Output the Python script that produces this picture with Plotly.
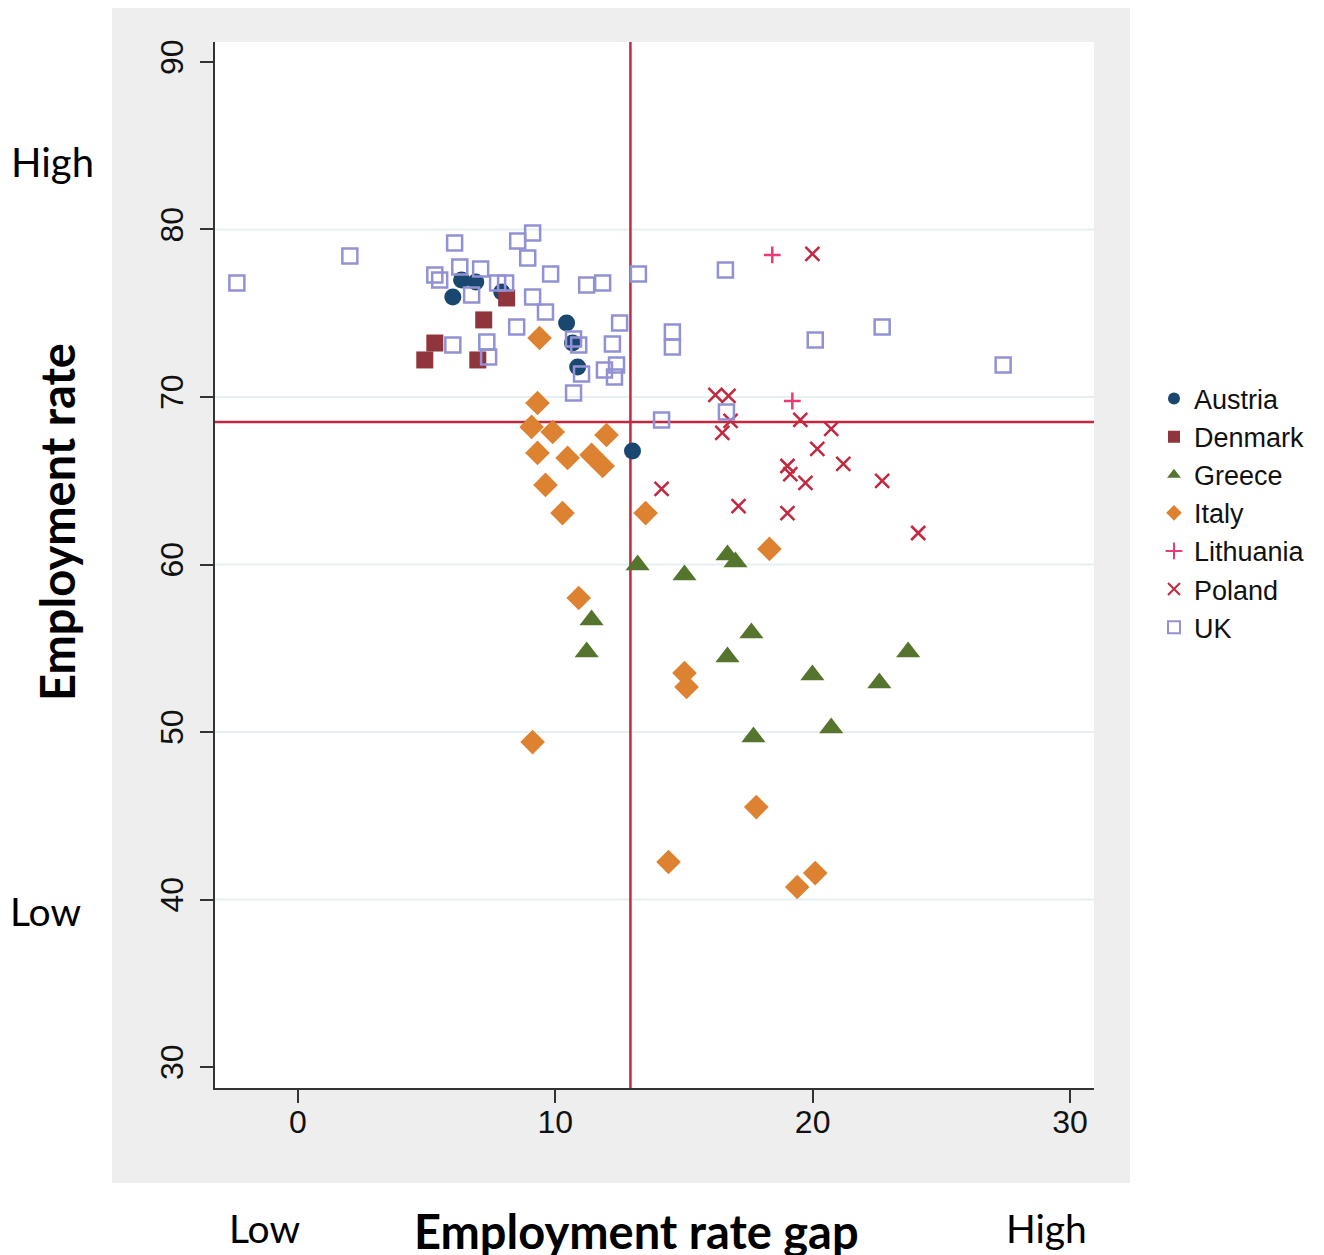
import plotly.graph_objects as go

# Employment rate gap (x) and employment rate (y), by country
austria_gap = [6.02, 6.36, 6.91, 7.92, 10.44, 10.67, 10.87, 13.00]
austria_rate = [75.97, 76.99, 76.87, 76.27, 74.42, 73.22, 71.79, 66.78]

denmark_gap = [4.93, 5.32, 7.22, 6.99, 8.11]
denmark_rate = [72.21, 73.22, 74.60, 72.21, 75.91]

greece_gap = [13.20, 15.02, 16.69, 17.00, 11.41, 11.22, 17.62, 16.69, 19.99, 22.59, 23.71, 17.70, 20.72]
greece_rate = [59.97, 59.37, 60.57, 60.15, 56.69, 54.78, 55.91, 54.48, 53.40, 52.93, 54.78, 49.70, 50.24]

italy_gap = [9.39, 9.31, 9.08, 9.90, 11.99, 9.31, 10.48, 11.41, 11.84, 9.62, 10.28, 13.51,
             18.32, 10.91, 15.02, 15.10, 9.12, 17.81, 14.40, 19.40, 20.10]
italy_rate = [73.52, 69.64, 68.21, 67.91, 67.73, 66.66, 66.36, 66.54, 65.88, 64.75, 63.07, 63.07,
              60.93, 58.00, 53.52, 52.69, 49.40, 45.52, 42.24, 40.75, 41.58]

lithuania_gap = [18.43, 19.21]
lithuania_rate = [78.48, 69.76]

poland_gap = [19.99, 16.22, 16.73, 16.81, 16.49, 19.52, 20.72, 20.18, 21.19, 19.02, 19.13,
              19.72, 22.70, 14.13, 17.12, 19.02, 24.10]
poland_rate = [78.54, 70.12, 70.06, 68.57, 67.85, 68.63, 68.09, 66.90, 66.00, 65.88, 65.40,
               64.87, 64.99, 64.51, 63.49, 63.07, 61.88]

uk_gap = [-2.37, 2.02, 6.09, 6.29, 7.10, 5.32, 5.51, 6.75, 7.76, 8.07, 8.54, 9.12, 8.93, 9.82,
          9.12, 9.62, 8.50, 11.22, 11.84, 13.23, 12.50, 6.02, 7.34, 7.41, 10.71, 10.91, 12.22,
          11.91, 12.38, 12.30, 11.02, 10.71, 14.55, 14.55, 14.13, 16.61, 16.65, 20.10, 22.70, 27.40]
uk_rate = [76.81, 78.42, 79.19, 77.76, 77.64, 77.28, 76.99, 76.09, 76.81, 76.81, 79.31, 79.79,
           78.30, 77.34, 75.97, 75.07, 74.18, 76.69, 76.81, 77.34, 74.42, 73.10, 73.28, 72.39,
           73.46, 73.10, 73.16, 71.61, 71.91, 71.19, 71.37, 70.24, 73.88, 72.99, 68.63, 77.58,
           69.10, 73.40, 74.18, 71.91]

# Reference lines (averages) and axis ticks
gap_mean = 12.92
rate_mean = 68.5
x_ticks = [0, 10, 20, 30]
y_ticks = [30, 40, 50, 60, 70, 80, 90]
y_grid = [40, 50, 60, 70, 80]

RED = "#c3283f"

fig = go.Figure()

series = [
    ("Austria", austria_gap, austria_rate,
     dict(symbol="circle", size=17, color="#1a476f")),
    ("Denmark", denmark_gap, denmark_rate,
     dict(symbol="square", size=17, color="#90353b")),
    ("Greece", greece_gap, greece_rate,
     dict(symbol="triangle-up", size=21, color="#55752f")),
    ("Italy", italy_gap, italy_rate,
     dict(symbol="diamond", size=19, color="#dd8230")),
    ("Lithuania", lithuania_gap, lithuania_rate,
     dict(symbol="cross-thin", size=12, color="#ea3b78",
          line=dict(color="#ea3b78", width=2.5))),
    ("Poland", poland_gap, poland_rate,
     dict(symbol="x-thin", size=14, color="#c3283f",
          line=dict(color="#c3283f", width=2.5))),
    ("UK", uk_gap, uk_rate,
     dict(symbol="square-open", size=15, color="#9191d4",
          line=dict(color="#9191d4", width=2.5))),
]

for name, xs, ys, mk in series:
    fig.add_trace(go.Scatter(x=xs, y=ys, mode="markers", name=name, marker=mk,
                             cliponaxis=False))

W, H = 1324, 1255
L, R, T, B = 215, 230, 42, 167
pw, ph = W - L - R, H - T - B

shapes = []
# gray graph region, with the white plot area on top of it
shapes.append(dict(type="rect", xref="paper", yref="paper",
                   x0=(112 - L) / pw, x1=(1130 - L) / pw,
                   y0=-(1183 - (H - B)) / ph, y1=1 + (T - 8) / ph,
                   fillcolor="#eeeeee", line=dict(width=0), layer="below"))
shapes.append(dict(type="rect", xref="paper", yref="paper", x0=0, x1=1, y0=0, y1=1,
                   fillcolor="white", line=dict(width=0), layer="below"))
# horizontal grid
for gy in y_grid:
    shapes.append(dict(type="line", xref="paper", yref="y", x0=0, x1=1, y0=gy, y1=gy,
                       line=dict(color="#e6eff1", width=2), layer="below"))
# mean reference lines
shapes.append(dict(type="line", xref="x", yref="paper", x0=gap_mean, x1=gap_mean, y0=0, y1=1,
                   line=dict(color=RED, width=2.5), layer="below"))
shapes.append(dict(type="line", xref="paper", yref="y", x0=0, x1=1, y0=rate_mean, y1=rate_mean,
                   line=dict(color=RED, width=2.5), layer="below"))

label_font = dict(family="Lato, Carlito, sans-serif", color="black")
annotations = [
    dict(text="<b>Employment rate gap</b>", x=636, y=1231, font=dict(size=47, **label_font)),
    dict(text="Low", x=264, y=1228, font=dict(size=39, **label_font)),
    dict(text="High", x=1046, y=1228, font=dict(size=39, **label_font)),
    dict(text="High", x=52, y=162, font=dict(size=40, **label_font)),
    dict(text="Low", x=45, y=911, font=dict(size=39, **label_font)),
    dict(text="<b>Employment rate</b>", x=57, y=522, textangle=-90, font=dict(size=47, **label_font)),
]
ann = []
for a in annotations:
    d = dict(a)
    d["xref"] = "paper"
    d["yref"] = "paper"
    d["x"] = (a["x"] - L) / pw
    d["y"] = 1 - (a["y"] - T) / ph
    d["xanchor"] = "center"
    d["yanchor"] = "middle"
    d["showarrow"] = False
    ann.append(d)

axis_font = dict(family="Liberation Sans, Arial, sans-serif", size=32, color="#111111")

fig.update_layout(
    width=W, height=H,
    margin=dict(l=L, r=R, t=T, b=B, pad=0),
    paper_bgcolor="white",
    plot_bgcolor="white",
    shapes=shapes,
    annotations=ann,
    xaxis=dict(range=[-3.22, 30.93], tickvals=x_ticks, showgrid=False, zeroline=False,
               showline=True, linecolor="#333333", linewidth=2,
               ticks="outside", ticklen=13, tickwidth=2, tickcolor="#333333",
               tickfont=axis_font, ticklabelstandoff=-8),
    yaxis=dict(range=[28.75, 91.19], tickvals=y_ticks, showgrid=False, zeroline=False,
               showline=True, linecolor="#333333", linewidth=2,
               ticks="outside", ticklen=13, tickwidth=2, tickcolor="#333333",
               tickfont=axis_font, tickangle=-90, ticklabelstandoff=4),
    legend=dict(x=(1154 - L) / pw, y=1 - (513 - T) / ph, xanchor="left", yanchor="middle",
                font=dict(family="Liberation Sans, Arial, sans-serif", size=27, color="#111111"),
                itemsizing="constant", bgcolor="rgba(0,0,0,0)", tracegroupgap=0,
                itemwidth=30),
    showlegend=True,
)

fig.write_html("out.html")
